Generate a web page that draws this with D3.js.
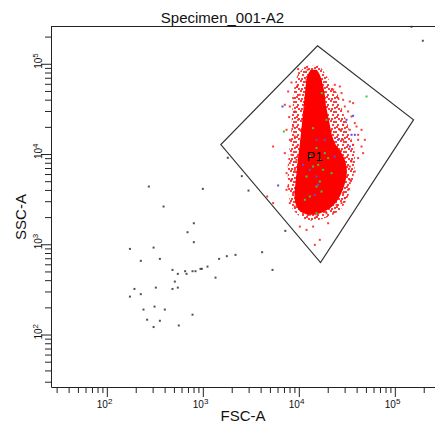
<!DOCTYPE html>
<html><head><meta charset="utf-8">
<script src="https://cdn.jsdelivr.net/npm/d3@7"></script>
<style>html,body{margin:0;padding:0;background:#fff;overflow:hidden}svg{display:block}</style>
</head><body><svg id="chart" width="435" height="425"></svg>
<script>
// ---- labels and axis settings ----
const plotTitle = "Specimen_001-A2";
const xTitle = "FSC-A";
const yTitle = "SSC-A";
const axisExtent = [26.2144, 262144];
const majorTicks = [100, 1000, 10000, 100000];
const majorExponents = ["2", "3", "4", "5"];
const minorTicks = [30, 40, 50, 60, 70, 80, 90,
  200, 300, 400, 500, 600, 700, 800, 900,
  2000, 3000, 4000, 5000, 6000, 7000, 8000, 9000,
  20000, 30000, 40000, 50000, 60000, 70000, 80000, 90000, 200000];

// ---- gate P1 (FSC-A, SSC-A vertices) ----
const gateName = "P1";
const gateVertices = [[15660, 158300], [156600, 23940], [16830, 627], [1540, 12740]];
const gateLabelAt = [14680, 8300];

// ---- saturated core of the P1 population: SSC-A row, FSC-A extent ----
const coreSSC = [85790, 75510, 58510, 45330, 35120, 27200, 21070, 16330, 12650, 10580, 8620, 6680, 5180, 4010, 3110, 2600, 2287, 2120];
const coreFSCLow = [13340, 12410, 11830, 11550, 11270, 11010, 10750, 10490, 10240, 10000, 9760, 9530, 9305, 9080, 9080, 9530, 10490, 12410];
const coreFSCHigh = [15390, 16550, 17780, 18660, 19110, 20050, 21030, 22070, 24290, 27380, 30150, 31620, 30880, 28730, 25490, 22070, 18200, 15030];

// ---- speckled margin around the core: SSC-A row, FSC-A extent ----
const marginSSC = [95020, 75510, 58510, 45330, 35120, 27200, 21070, 16330, 12650, 9800, 7590, 5880, 4560, 3530, 2730, 2287, 1963, 1817];
const marginFSCLow = [11830, 9760, 9080, 8870, 8660, 8450, 8450, 8250, 8060, 7870, 7680, 7680, 7680, 7870, 8250, 9080, 10750, 13660];
const marginFSCHigh = [16550, 19110, 22070, 25490, 27380, 29460, 32410, 33990, 37340, 38310, 38310, 37340, 35640, 33200, 29460, 25490, 19110, 15030];

// ---- sparse events around the core (inside P1) ----
const p1Events = [
  [9830, 87340], [10070, 78880], [12320, 85790], [12030, 66470], [8390, 62050], [9600, 56020],
  [7740, 49300], [8720, 41660], [10240, 45330], [11550, 33620], [23710, 58510], [26730, 56020],
  [22770, 51490], [27850, 47340], [25670, 41660], [28940, 39900], [33990, 38190], [36780, 36660],
  [30150, 33620], [32630, 29600], [35400, 26050], [38310, 22010], [28940, 21070], [26730, 18550],
  [33990, 18550], [41470, 16330], [41470, 14370], [28940, 14370], [36780, 12650], [44980, 12110],
  [46760, 10230], [41470, 9010], [35400, 8260], [33990, 7270], [38310, 6400], [31400, 5630],
  [33990, 5180], [32630, 4010], [28940, 3690], [30150, 3240], [27850, 2860], [24710, 2730],
  [22770, 2210], [19440, 2210], [15290, 2030], [13020, 2120], [11090, 2210], [9080, 2620],
  [8060, 2860], [8720, 3690], [7740, 4360], [8390, 5180], [7450, 6140], [9080, 6680],
  [8060, 7930], [9460, 8620], [8390, 9800], [7150, 10230], [9460, 12110], [8060, 14370],
  [9080, 15630], [10240, 18550], [8720, 20180], [7450, 18550], [9830, 23940], [11090, 27200],
  [9080, 29600], [8060, 33620], [5400, 12110], [4680, 3380], [5400, 2860], [7450, 4010],
  [10240, 1570], [12030, 1444], [16550, 1119], [14680, 985], [14090, 1570], [20200, 1710],
  [33990, 4760], [39910, 20180], [44980, 18550], [48700, 14370], [7150, 35120], [7930, 25650]
];
const greenEvents = [
  [50720, 43400], [6980, 17760], [17360, 47340], [19440, 23940], [14090, 19370], [15290, 11630],
  [18660, 10230], [20200, 9010], [16550, 8620], [13020, 9380], [15890, 7590], [12030, 5630],
  [16550, 4960], [15290, 4360], [17240, 3840], [13020, 3380], [11550, 3110], [15290, 2210],
  [21910, 6140], [14090, 7270], [17910, 6680]
];
const blueEvents = [
  [6760, 33620], [31400, 23940], [36780, 26520], [35400, 16330], [38310, 16330], [25670, 14370],
  [33990, 12110], [6090, 4480], [15290, 14370], [23710, 9380], [18660, 14370], [15290, 5630],
  [14680, 3530], [15890, 4560], [13020, 6680], [11090, 7590]
];
// ---- events outside P1 ----
const ungatedEvents = [
  [274, 4360], [1000, 4110], [390, 2620], [806, 1710], [693, 1360], [806, 1055], [174, 889],
  [307, 919], [226, 655], [357, 689], [483, 520], [549, 470], [654, 503], [677, 470], [781, 503],
  [839, 503], [946, 534], [976, 534], [1119, 566], [1478, 689], [1778, 738], [2191, 763],
  [4147, 817], [5321, 520], [1356, 427], [511, 386], [324, 331], [549, 331], [483, 320],
  [194, 320], [226, 280], [174, 263], [241, 189], [314, 204], [402, 189], [263, 146], [357, 142],
  [307, 121], [562, 126], [781, 166], [2548, 5690], [2992, 3937], [1820, 9080], [7230, 1408],
  [149300, 257000], [195700, 179900]
];

// ---- layout ----
const svg = d3.select("#chart");
const x = d3.scaleLog().domain(axisExtent).range([51, 435]);
const y = d3.scaleLog().domain(axisExtent).range([387, 26]);
const font = "'Liberation Sans', Arial, sans-serif";

// speckle fill used for the margin of the dense population
const defs = svg.append("defs");
const speckle = defs.append("pattern").attr("id", "speckle")
  .attr("patternUnits", "userSpaceOnUse").attr("width", 10).attr("height", 10);
[[0, 0], [5, 1], [2, 4], [7, 4], [4, 7], [8, 8], [1, 8], [6, 6], [3, 1]].forEach(p =>
  speckle.append("rect").attr("x", p[0]).attr("y", p[1]).attr("width", 2).attr("height", 2)
    .attr("fill", "#ff1a1a").attr("fill-opacity", 0.85));

// frame: top line
svg.append("line")
  .attr("x1", x(axisExtent[0])).attr("x2", x(axisExtent[1]))
  .attr("y1", y(axisExtent[1]) + 0.5).attr("y2", y(axisExtent[1]) + 0.5)
  .attr("stroke", "#222").attr("stroke-width", 1);

// axes
const allTicks = majorTicks.concat(minorTicks).sort((a, b) => a - b);
const isMajor = v => majorTicks.includes(v);

const gx = svg.append("g").attr("transform", `translate(0,${y(axisExtent[0])})`)
  .call(d3.axisBottom(x).tickValues(allTicks).tickFormat("").tickSizeOuter(0).tickSizeInner(6));
gx.selectAll(".tick line").attr("y2", d => isMajor(d) ? 10 : 6);

const gy = svg.append("g").attr("transform", `translate(${x(axisExtent[0])},0)`)
  .call(d3.axisLeft(y).tickValues(allTicks).tickFormat("").tickSizeOuter(0).tickSizeInner(6));
gy.selectAll(".tick line").attr("x2", d => isMajor(d) ? -10 : -6);

svg.selectAll(".domain").attr("stroke", "#222");
svg.selectAll(".tick line").attr("stroke", "#222");

// decade labels: 10 with superscript exponent
majorTicks.forEach((v, i) => {
  const tx = svg.append("text")
    .attr("x", x(v) - 10).attr("y", 408)
    .attr("font-family", font).attr("font-size", 10).attr("fill", "#111");
  tx.append("tspan").text("10");
  tx.append("tspan").attr("font-size", 8).attr("dy", -4).text(majorExponents[i]);

  const ty = svg.append("text")
    .attr("transform", `translate(42,${y(v) + 5}) rotate(-90)`)
    .attr("font-family", font).attr("font-size", 10).attr("fill", "#111");
  ty.append("tspan").text("10");
  ty.append("tspan").attr("font-size", 8).attr("dy", -4).text(majorExponents[i]);
});

// titles
svg.append("text").attr("x", 222.5).attr("y", 23).attr("text-anchor", "middle")
  .attr("font-family", font).attr("font-size", 15).attr("fill", "#111").text(plotTitle);
svg.append("text").attr("x", (x(axisExtent[0]) + x(axisExtent[1])) / 2).attr("y", 421)
  .attr("text-anchor", "middle")
  .attr("font-family", font).attr("font-size", 15).attr("fill", "#111").text(xTitle);
svg.append("text").attr("transform", `translate(26,217) rotate(-90)`)
  .attr("text-anchor", "middle")
  .attr("font-family", font).attr("font-size", 15).attr("fill", "#111").text(yTitle);

// events
const dot = 2;
function drawEvents(data, fill, opacity) {
  svg.append("g").selectAll("rect").data(data).join("rect")
    .attr("x", d => x(d[0]) - dot / 2).attr("y", d => y(d[1]) - dot / 2)
    .attr("width", dot).attr("height", dot)
    .attr("fill", fill).attr("fill-opacity", opacity);
}
drawEvents(ungatedEvents, "#333", 0.85);

function band(ssc, lo, hi) {
  const rows = ssc.map((s, i) => ({ ssc: s, lo: lo[i], hi: hi[i] }));
  return d3.area().y(d => y(d.ssc)).x0(d => x(d.lo)).x1(d => x(d.hi)).curve(d3.curveCatmullRom)(rows);
}
svg.append("path").attr("d", band(marginSSC, marginFSCLow, marginFSCHigh)).attr("fill", "url(#speckle)");
svg.append("path").attr("d", band(coreSSC, coreFSCLow, coreFSCHigh)).attr("fill", "#ff0000");

drawEvents(p1Events, "#ff1a1a", 0.85);
drawEvents(greenEvents, "#33cc33", 1);
drawEvents(blueEvents, "#5050ff", 1);

// gate outline and name
svg.append("path")
  .attr("d", d3.line().x(d => x(d[0])).y(d => y(d[1]))(gateVertices) + "Z")
  .attr("fill", "none").attr("stroke", "#333").attr("stroke-width", 1.2);
svg.append("text").attr("x", x(gateLabelAt[0])).attr("y", y(gateLabelAt[1]))
  .attr("text-anchor", "middle")
  .attr("font-family", font).attr("font-size", 13).attr("fill", "#000").text(gateName);
</script></body></html>
